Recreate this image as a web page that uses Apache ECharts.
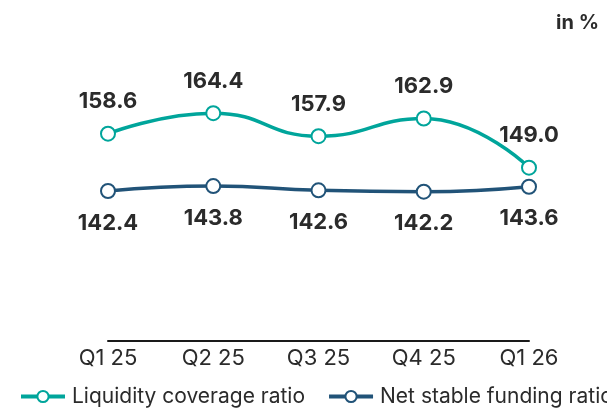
<!DOCTYPE html>
<html>
<head>
<meta charset="utf-8">
<script src="https://cdn.jsdelivr.net/npm/echarts@6/dist/echarts.min.js"></script>
<style>
    html, body { margin: 0; padding: 0; background: #fff; }
    #chart { width: 607px; height: 409px; }
</style>
</head>
<body>
<div id="chart"></div>
<script>
var quarters = ['Q1 25', 'Q2 25', 'Q3 25', 'Q4 25', 'Q1 26'];
var lcrValues = [158.6, 164.4, 157.9, 162.9, 149.0];
var nsfrValues = [142.4, 143.8, 142.6, 142.2, 143.6];

var textColor = '#2b2b2b';
var font = 'Inter, "Noto Sans", sans-serif';

var myChart = echarts.init(document.getElementById('chart'));

// helper for both series, only colour / label side differ
function lineSeries(name, data, color, labelPos) {
    return {
        name: name,
        type: 'line',
        data: data,
        smooth: true,
        symbol: 'circle',
        symbolSize: 14,
        lineStyle: { color: color, width: 3.5 },
        itemStyle: { color: '#fff', borderColor: color, borderWidth: 2 },
        label: {
            show: true,
            position: labelPos,
            distance: 13,
            color: textColor,
            fontFamily: font,
            fontWeight: 'bold',
            fontSize: 22,
            formatter: function (p) { return p.value.toFixed(1); }
        },
        emphasis: { disabled: true }
    };
}

var option = {
    animation: false,
    textStyle: { fontFamily: font },
    title: {
        text: 'in %',
        right: 3,
        top: 8,
        textStyle: { color: textColor, fontFamily: font, fontWeight: 'bold', fontSize: 20 }
    },
    legend: {
        left: 14,
        top: 381,
        width: 1200,
        itemWidth: 44,
        itemHeight: 14,
        itemGap: 22,
        lineStyle: { width: 4 },
        textStyle: { color: textColor, fontFamily: font, fontSize: 21, padding: [0, 0, 0, 2] },
        data: ['Liquidity coverage ratio', 'Net stable funding ratio']
    },
    grid: { left: 108, right: 78, top: 58, bottom: 68 },
    xAxis: {
        type: 'category',
        data: quarters,
        boundaryGap: false,
        axisLine: { lineStyle: { color: '#1a1a1a', width: 2 } },
        axisTick: { show: false },
        axisLabel: { color: textColor, fontFamily: font, fontSize: 22, margin: 6 }
    },
    yAxis: {
        type: 'value',
        min: 100,
        max: 180,
        show: false
    },
    series: [
        lineSeries('Liquidity coverage ratio', lcrValues, '#00a59b', 'top'),
        lineSeries('Net stable funding ratio', nsfrValues, '#215378', 'bottom')
    ]
};
myChart.setOption(option);
</script>
</body>
</html>
